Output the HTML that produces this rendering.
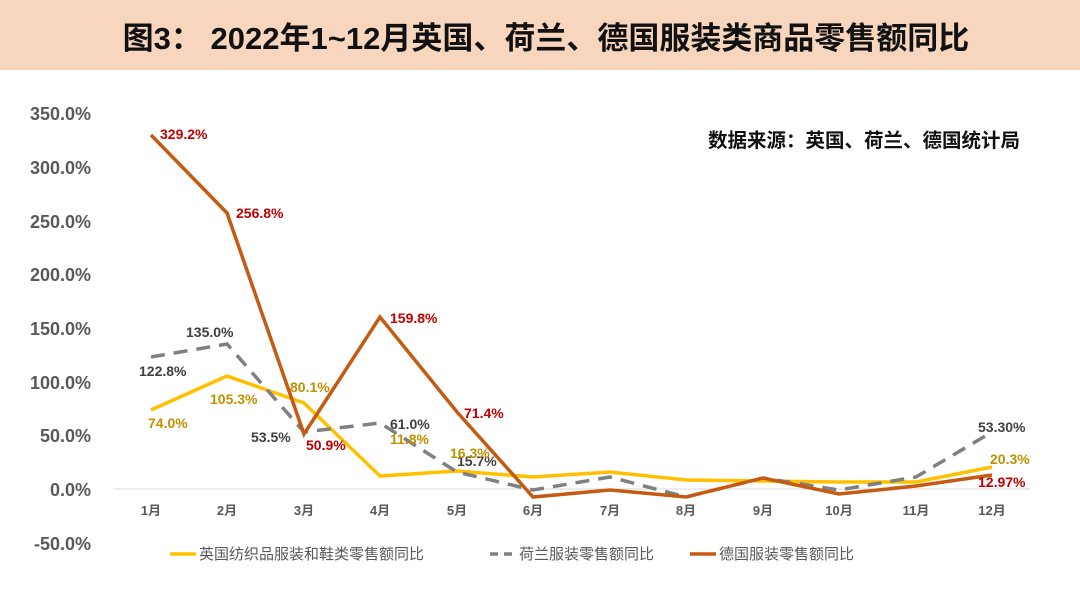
<!DOCTYPE html>
<html><head><meta charset="utf-8"><style>
body{margin:0;width:1080px;height:608px;background:#fff;overflow:hidden;font-family:"Liberation Sans","Noto Sans CJK SC",sans-serif}
</style></head><body>
<svg width="1080" height="608" xmlns="http://www.w3.org/2000/svg" font-family="Liberation Sans, Noto Sans CJK SC, sans-serif">
<rect x="0" y="0" width="1080" height="70" fill="#f8d6be"/>
<text x="546" y="49" text-anchor="middle" font-size="31" font-weight="bold" fill="#111">图3： 2022年1~12月英国、荷兰、德国服装类商品零售额同比</text>
<g font-size="18" font-weight="bold" fill="#595959" text-anchor="end">
<text x="91" y="120">350.0%</text><text x="91" y="174">300.0%</text><text x="91" y="228">250.0%</text><text x="91" y="281">200.0%</text><text x="91" y="335">150.0%</text><text x="91" y="389">100.0%</text><text x="91" y="442">50.0%</text><text x="91" y="496">0.0%</text><text x="91" y="550">-50.0%</text>
</g>
<line x1="113" y1="489" x2="1030" y2="489" stroke="#d9d9d9" stroke-width="1"/>
<g font-size="13" font-weight="bold" fill="#595959" text-anchor="middle">
<text x="151" y="515">1月</text><text x="227" y="515">2月</text><text x="304" y="515">3月</text><text x="380" y="515">4月</text><text x="457" y="515">5月</text><text x="533" y="515">6月</text><text x="610" y="515">7月</text><text x="686" y="515">8月</text><text x="763" y="515">9月</text><text x="839" y="515">10月</text><text x="916" y="515">11月</text><text x="992" y="515">12月</text>
</g>
<polyline fill="none" stroke="#ffc000" stroke-width="3.5" points="151,410 227,376 304,403 380,476 457,471 533,477 610,472 686,480 763,481 839,482 916,482 992,467"/>
<polyline fill="none" stroke="#808080" stroke-width="3.5" stroke-dasharray="14,9" points="151,357 227,344 304,432 380,423 457,472 533,490 610,477 686,497 763,478 839,490 916,477 992,432"/>
<polyline fill="none" stroke="#c55a11" stroke-width="3.5" points="151,135 227,213 304,434 380,317 457,412 533,497 610,490 686,497 763,478 839,494 916,486 992,475"/>
<g font-size="14" font-weight="bold">
<text x="160" y="139" fill="#c00000">329.2%</text>
<text x="236" y="218" fill="#c00000">256.8%</text>
<text x="306" y="450" fill="#c00000">50.9%</text>
<text x="390" y="323" fill="#c00000">159.8%</text>
<text x="464" y="418" fill="#c00000">71.4%</text>
<text x="978" y="487" fill="#c00000">12.97%</text>
<text x="186" y="337" fill="#404040">135.0%</text>
<text x="139" y="376" fill="#404040">122.8%</text>
<text x="251" y="442" fill="#404040">53.5%</text>
<text x="390" y="429" fill="#404040">61.0%</text>
<text x="457" y="466" fill="#404040">15.7%</text>
<text x="978" y="432" fill="#404040">53.30%</text>
<text x="148" y="428" fill="#bf9000">74.0%</text>
<text x="210" y="404" fill="#bf9000">105.3%</text>
<text x="290" y="392" fill="#bf9000">80.1%</text>
<text x="390" y="444" fill="#bf9000">11.8%</text>
<text x="450" y="458" fill="#bf9000">16.3%</text>
<text x="990" y="464" fill="#bf9000">20.3%</text>
</g>
<text x="1020" y="147" text-anchor="end" font-size="19.5" font-weight="bold" fill="#111">数据来源：英国、荷兰、德国统计局</text>
<g font-size="15" fill="#595959">
<line x1="170" y1="554" x2="196" y2="554" stroke="#ffc000" stroke-width="3.5"/><text x="199" y="559">英国纺织品服装和鞋类零售额同比</text>
<line x1="490" y1="554" x2="516" y2="554" stroke="#808080" stroke-width="3.5" stroke-dasharray="8,6"/><text x="519" y="559">荷兰服装零售额同比</text>
<line x1="690" y1="554" x2="716" y2="554" stroke="#c55a11" stroke-width="3.5"/><text x="719" y="559">德国服装零售额同比</text>
</g>
</svg>
</body></html>
